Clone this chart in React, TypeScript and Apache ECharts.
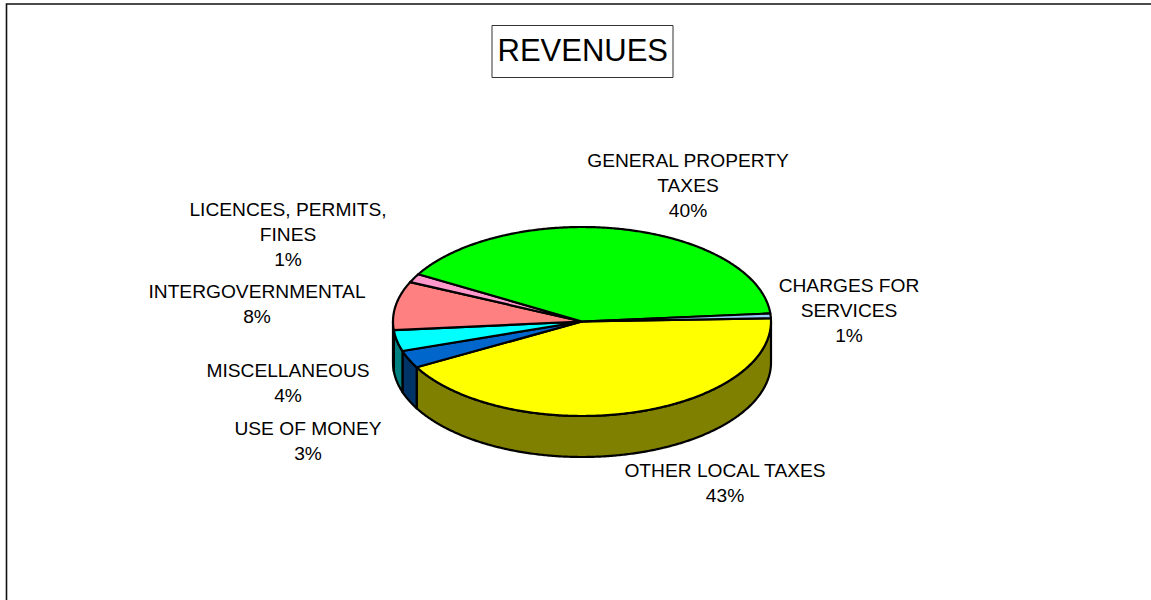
import React, { useEffect, useRef } from "react";
import * as echarts from "echarts";

const categories = [
  "OTHER LOCAL TAXES",
  "USE OF MONEY",
  "MISCELLANEOUS",
  "INTERGOVERNMENTAL",
  "LICENCES, PERMITS,\nFINES",
  "GENERAL PROPERTY\nTAXES",
  "CHARGES FOR\nSERVICES",
];
const sliceValues = [42.5, 3.0, 3.6, 8.3, 1.5, 40.3, 0.8];
const percentLabels = ["43%", "3%", "4%", "8%", "1%", "40%", "1%"];

const topColors = ["#FFFF00", "#0066CC", "#00FFFF", "#FF8080", "#FF99CC", "#00FF00", "#99CCFF"];
const sideColors = ["#808000", "#003366", "#008080", "#804040", "#804C66", "#008000", "#4C6680"];
const labelAnchors = [
  [725, 483],
  [308, 441],
  [288, 383],
  [257, 303.5],
  [288, 234.5],
  [688, 185],
  [849, 310.5],
];

const CX = 582;
const CY = 321.5;
const RX = 189;
const RY = 94.5;
const DEPTH = 41;
const START_DEG = -2;

const total = sliceValues.reduce((a, b) => a + b, 0);
const angleAt = (i: number) =>
  START_DEG + (sliceValues.slice(0, i).reduce((a, b) => a + b, 0) / total) * 360;

const ellipsePoint = (deg: number, dy = 0) => {
  const r = (deg * Math.PI) / 180;
  return [CX + RX * Math.cos(r), CY + dy + RY * Math.sin(r)];
};

const arcPoints = (from: number, to: number, dy = 0) => {
  const pts: number[][] = [];
  const n = Math.max(2, Math.ceil(Math.abs(to - from) * 2));
  for (let k = 0; k <= n; k++) pts.push(ellipsePoint(from + ((to - from) * k) / n, dy));
  return pts;
};

const outline = { stroke: "#000", lineWidth: 2.2, lineJoin: "round" as const };

const renderSide = (params: any) => {
  const i = params.dataIndex;
  const a = Math.max(angleAt(i), 0);
  const b = Math.min(angleAt(i + 1), 180);
  if (b <= a) return { type: "group", children: [] };
  const points = [...arcPoints(a, b), ...arcPoints(b, a, DEPTH)];
  return { type: "polygon", shape: { points }, style: { fill: sideColors[i], ...outline } };
};

const renderTop = (params: any) => {
  const i = params.dataIndex;
  const points = [[CX, CY], ...arcPoints(angleAt(i), angleAt(i + 1))];
  return { type: "polygon", shape: { points }, style: { fill: topColors[i], ...outline } };
};

const renderLabel = (params: any) => {
  const i = params.dataIndex;
  return {
    type: "text",
    style: {
      x: labelAnchors[i][0],
      y: labelAnchors[i][1],
      text: `${categories[i]}\n${percentLabels[i]}`,
      fill: "#000",
      fontFamily: '"Liberation Sans", Arial, sans-serif',
      fontSize: 19.2,
      lineHeight: 25,
      align: "center",
      verticalAlign: "middle",
    },
  };
};

export default function App() {
  const ref = useRef<HTMLDivElement>(null);
  useEffect(() => {
    const chart = echarts.init(ref.current!, undefined, { renderer: "svg" });
    const rows = sliceValues.map((v) => [v]);
    chart.setOption({
      animation: false,
      backgroundColor: "#fff",
      title: {
        text: "REVENUES",
        left: 492,
        top: 25,
        padding: [10, 5.5, 12, 5.5],
        borderColor: "#333",
        borderWidth: 1,
        textStyle: {
          color: "#000",
          fontFamily: '"Liberation Sans", Arial, sans-serif',
          fontSize: 31,
          fontWeight: "normal",
          lineHeight: 31,
        },
      },
      graphic: [
        {
          type: "polyline",
          shape: { points: [[6.5, 600], [6.5, 4], [1151, 4]] },
          style: { stroke: "#111", lineWidth: 1.6, fill: "none" },
        },
      ],
      series: [
        { type: "custom", coordinateSystem: "none", data: rows, renderItem: renderSide, silent: true, z: 2 },
        { type: "custom", coordinateSystem: "none", data: rows, renderItem: renderTop, silent: true, z: 3 },
        { type: "custom", coordinateSystem: "none", data: rows, renderItem: renderLabel, silent: true, z: 4 },
      ],
    });
    return () => chart.dispose();
  }, []);
  return (
    <div
      ref={ref}
      style={{ position: "fixed", left: 0, top: 0, width: 1151, height: 600, background: "#fff" }}
    />
  );
}
